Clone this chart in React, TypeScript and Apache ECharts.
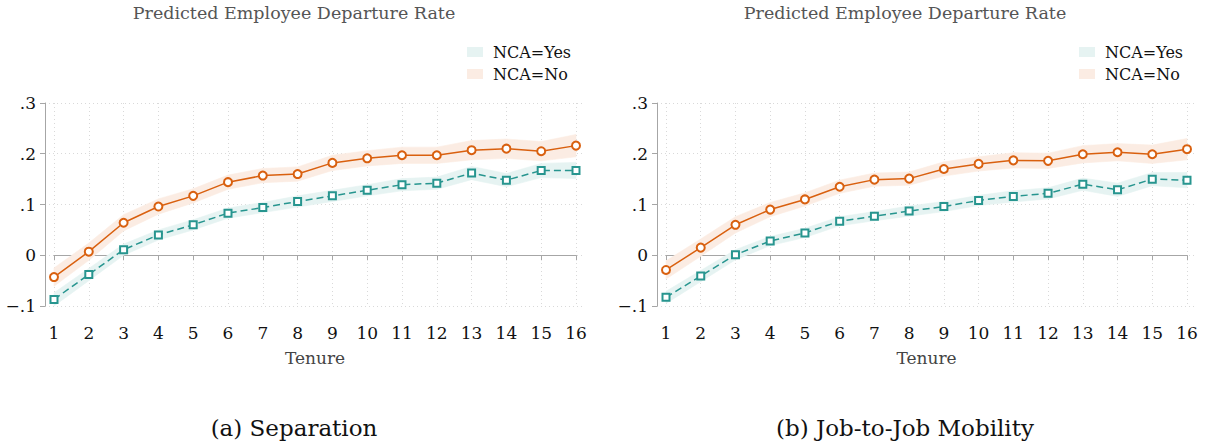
import React, { useEffect, useRef } from "react";
import * as echarts from "echarts";

const tenure = [1, 2, 3, 4, 5, 6, 7, 8, 9, 10, 11, 12, 13, 14, 15, 16];

// (a) Separation
const sepNo = [-0.043, 0.007, 0.064, 0.096, 0.117, 0.144, 0.157, 0.160, 0.182, 0.191, 0.197, 0.197, 0.207, 0.210, 0.205, 0.216];
const sepNoCI = [0.018, 0.017, 0.016, 0.015, 0.014, 0.014, 0.014, 0.014, 0.015, 0.015, 0.016, 0.016, 0.019, 0.019, 0.019, 0.022];
const sepYes = [-0.087, -0.038, 0.011, 0.040, 0.060, 0.083, 0.094, 0.106, 0.117, 0.128, 0.139, 0.142, 0.162, 0.148, 0.167, 0.167];
const sepYesCI = [0.013, 0.012, 0.011, 0.010, 0.010, 0.010, 0.010, 0.011, 0.011, 0.011, 0.012, 0.012, 0.013, 0.013, 0.014, 0.016];

// (b) Job-to-Job Mobility
const jtjNo = [-0.029, 0.015, 0.060, 0.090, 0.110, 0.135, 0.149, 0.151, 0.170, 0.180, 0.187, 0.186, 0.199, 0.203, 0.199, 0.209];
const jtjNoCI = [0.018, 0.017, 0.016, 0.014, 0.013, 0.013, 0.013, 0.013, 0.014, 0.014, 0.015, 0.015, 0.017, 0.017, 0.018, 0.021];
const jtjYes = [-0.083, -0.041, 0.001, 0.028, 0.044, 0.067, 0.077, 0.087, 0.096, 0.108, 0.116, 0.122, 0.140, 0.129, 0.150, 0.148];
const jtjYesCI = [0.012, 0.011, 0.010, 0.009, 0.009, 0.009, 0.009, 0.010, 0.010, 0.010, 0.011, 0.011, 0.012, 0.013, 0.013, 0.015];

const yTicks = [-0.1, 0, 0.1, 0.2, 0.3];
const yTickLabels = ["\u2212.1", "0", ".1", ".2", ".3"];

const panelTitle = "Predicted Employee Departure Rate";
const xName = "Tenure";
const captions = ["(a) Separation", "(b) Job-to-Job Mobility"];
const legendNames = ["NCA=Yes", "NCA=No"];

const FONT = '"DejaVu Serif", serif';
const ORANGE = "#d9600f";
const TEAL = "#27958f";
const ORANGE_BAND = "#fbece3";
const TEAL_BAND = "#e6f3f2";

function buildPanel(
  p: number,
  outerLeft: number,
  outerWidth: number,
  innerLeft: number,
  innerWidth: number,
  no: number[],
  noCI: number[],
  yes: number[],
  yesCI: number[]
) {
  const top = 103;
  const height = 203;
  const gOuter = p * 2;
  const gInner = p * 2 + 1;
  const grids = [
    { left: outerLeft, top, width: outerWidth, height },
    { left: innerLeft, top, width: innerWidth, height },
  ];
  const xAxes = [
    { gridIndex: gOuter, type: "value", min: 0, max: 1, show: false },
    {
      gridIndex: gInner,
      type: "value",
      min: 1,
      max: 16,
      interval: 1,
      offset: 9,
      name: xName,
      nameLocation: "middle",
      nameGap: 34,
      nameTextStyle: { fontFamily: FONT, fontSize: 17, color: "#444" },
      axisLine: { show: true, lineStyle: { color: "#a6a6a6", width: 1 } },
      axisTick: { show: true, inside: false, length: 5, lineStyle: { color: "#a6a6a6" } },
      axisLabel: { fontFamily: FONT, fontSize: 17, color: "#111", margin: 9 },
      splitLine: { show: true, lineStyle: { color: "#d9d9d9", type: [1, 3], width: 1 } },
    },
  ];
  const yAxes = [
    {
      gridIndex: gOuter,
      type: "value",
      min: -0.1,
      max: 0.3,
      interval: 0.1,
      axisLine: { show: true, lineStyle: { color: "#a6a6a6", width: 1 } },
      axisTick: { show: true, inside: false, length: 5, lineStyle: { color: "#a6a6a6" } },
      axisLabel: {
        fontFamily: FONT,
        fontSize: 17,
        color: "#111",
        margin: 9,
        formatter: (v: number) => {
          let best = 0;
          yTicks.forEach((t, i) => {
            if (Math.abs(t - v) < Math.abs(yTicks[best] - v)) best = i;
          });
          return yTickLabels[best];
        },
      },
      splitLine: { show: true, lineStyle: { color: "#d9d9d9", type: [1, 3], width: 1 } },
    },
    { gridIndex: gInner, type: "value", min: -0.1, max: 0.3, show: false },
  ];
  const xi = gInner;
  const yi = gInner;
  const band = (name: string, vals: number[], ci: number[], color: string) => ({
    type: "custom",
    name,
    xAxisIndex: xi,
    yAxisIndex: yi,
    silent: true,
    z: 1,
    itemStyle: { color },
    data: tenure.slice(0, -1).map((t, i) => [
      t,
      vals[i] - ci[i],
      vals[i] + ci[i],
      tenure[i + 1],
      vals[i + 1] - ci[i + 1],
      vals[i + 1] + ci[i + 1],
    ]),
    renderItem: (params: any, api: any) => {
      const x0 = api.value(0);
      const lo0 = api.value(1);
      const hi0 = api.value(2);
      const x1 = api.value(3);
      const lo1 = api.value(4);
      const hi1 = api.value(5);
      return {
        type: "polygon",
        shape: {
          points: [api.coord([x0, hi0]), api.coord([x1, hi1]), api.coord([x1, lo1]), api.coord([x0, lo0])],
        },
        style: { fill: color, stroke: color, lineWidth: 0.6 },
      };
    },
  });
  const series = [
    band(legendNames[0], yes, yesCI, TEAL_BAND),
    band(legendNames[1], no, noCI, ORANGE_BAND),
    {
      type: "line",
      name: "no_line" + p,
      xAxisIndex: xi,
      yAxisIndex: yi,
      data: tenure.map((t, i) => [t, no[i]]),
      symbol: "emptyCircle",
      symbolSize: 8,
      lineStyle: { color: ORANGE, width: 1.5 },
      itemStyle: { color: ORANGE, borderWidth: 1.2 },
      z: 3,
    },
    {
      type: "line",
      name: "yes_line" + p,
      xAxisIndex: xi,
      yAxisIndex: yi,
      data: tenure.map((t, i) => [t, yes[i]]),
      symbol: "emptyRect",
      symbolSize: 7,
      lineStyle: { color: TEAL, width: 1.5, type: [7, 4] },
      itemStyle: { color: TEAL, borderWidth: 1.2 },
      z: 3,
    },
  ];
  const legend = {
    left: outerLeft + 417,
    top: 39,
    orient: "vertical",
    icon: "rect",
    itemWidth: 16,
    itemHeight: 10,
    itemGap: 6,
    selectedMode: false,
    textStyle: { fontFamily: FONT, fontSize: 16, color: "#111", padding: [0, 0, 0, 5] },
    data: [
      { name: legendNames[0], itemStyle: { color: TEAL_BAND } },
      { name: legendNames[1], itemStyle: { color: ORANGE_BAND } },
    ],
  };
  return { grids, xAxes, yAxes, series, legend };
}

export default function App() {
  const ref = useRef<HTMLDivElement>(null);
  useEffect(() => {
    if (!ref.current) return;
    const chart = echarts.init(ref.current, undefined, { renderer: "svg" });
    const a = buildPanel(0, 45, 540, 54, 522, sepNo, sepNoCI, sepYes, sepYesCI);
    const b = buildPanel(1, 657, 538, 666, 521, jtjNo, jtjNoCI, jtjYes, jtjYesCI);
    const textEl = (text: string, x: number, y: number, size: number, color: string) => ({
      type: "text",
      x,
      y,
      style: {
        text,
        font: `${size}px ${FONT}`,
        fill: color,
        align: "center",
        verticalAlign: "middle",
        textAlign: "center",
        textVerticalAlign: "middle",
      },
    });
    chart.setOption({
      animation: false,
      backgroundColor: "#ffffff",
      grid: [...a.grids, ...b.grids],
      xAxis: [...a.xAxes, ...b.xAxes],
      yAxis: [...a.yAxes, ...b.yAxes],
      series: [...a.series, ...b.series],
      legend: [a.legend, b.legend],
      graphic: [
        textEl(panelTitle, 294, 13, 17.5, "#555555"),
        textEl(panelTitle, 905, 13, 17.5, "#555555"),
        textEl(captions[0], 294, 428, 23, "#111111"),
        textEl(captions[1], 905, 428, 23, "#111111"),
      ],
    });
    return () => chart.dispose();
  }, []);
  return (
    <div
      ref={ref}
      style={{ position: "fixed", left: 0, top: 0, width: 1209, height: 448, background: "#fff" }}
    />
  );
}
